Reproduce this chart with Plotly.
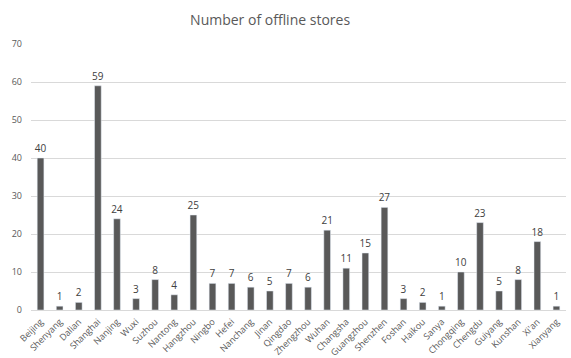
import plotly.graph_objects as go

cities = ["Beijing", "Shenyang", "Dalian", "Shanghai", "Nanjing", "Wuxi", "Suzhou", "Nantong",
          "Hangzhou", "Ningbo", "Hefei", "Nanchang", "Jinan", "Qingdao", "Zhengzhou", "Wuhan",
          "Changsha", "Guangzhou", "Shenzhen", "Foshan", "Haikou", "Sanya", "Chongqing", "Chengdu",
          "Guiyang", "Kunshan", "Xi'an", "Xianyang"]
stores = [40, 1, 2, 59, 24, 3, 8, 4, 25, 7, 7, 6, 5, 7, 6, 21, 11, 15, 27, 3, 2, 1, 10, 23, 5, 8, 18, 1]
y_ticks = [0, 10, 20, 30, 40, 50, 60, 70]

label_font = dict(size=10, color="#404040", family="Open Sans")
fig = go.Figure(go.Bar(
    x=cities, y=stores, marker_color="#595959", width=0.35,
    text=stores, textposition="outside", cliponaxis=False,
    textfont=label_font, outsidetextfont=label_font, constraintext="none",
))
fig.update_layout(
    width=571, height=358,
    margin=dict(l=31, r=5, t=44, b=48),
    paper_bgcolor="white", plot_bgcolor="white",
    title=dict(text="Number of offline stores", x=0.473, xanchor="center", y=0.945, yanchor="middle",
               font=dict(size=14, color="#595959", family="Open Sans")),
    showlegend=False,
    uniformtext=dict(minsize=10, mode="show"),
    font=dict(family="Open Sans", color="#595959"),
)
fig.update_yaxes(range=[0, 70], tickvals=y_ticks, showgrid=True, gridcolor="#d9d9d9", gridwidth=1,
                 zeroline=False, showline=False, ticks="", tickfont=dict(size=9, color="#595959"),
                 ticklabelstandoff=8, automargin=False)
fig.update_xaxes(tickangle=-45, tickfont=dict(size=9, color="#595959"), showline=True,
                 linecolor="#d9d9d9", linewidth=1, ticks="", range=[-0.5, len(cities) - 0.5],
                 ticklabelstandoff=2, automargin=False)
fig.write_html("out.html")
